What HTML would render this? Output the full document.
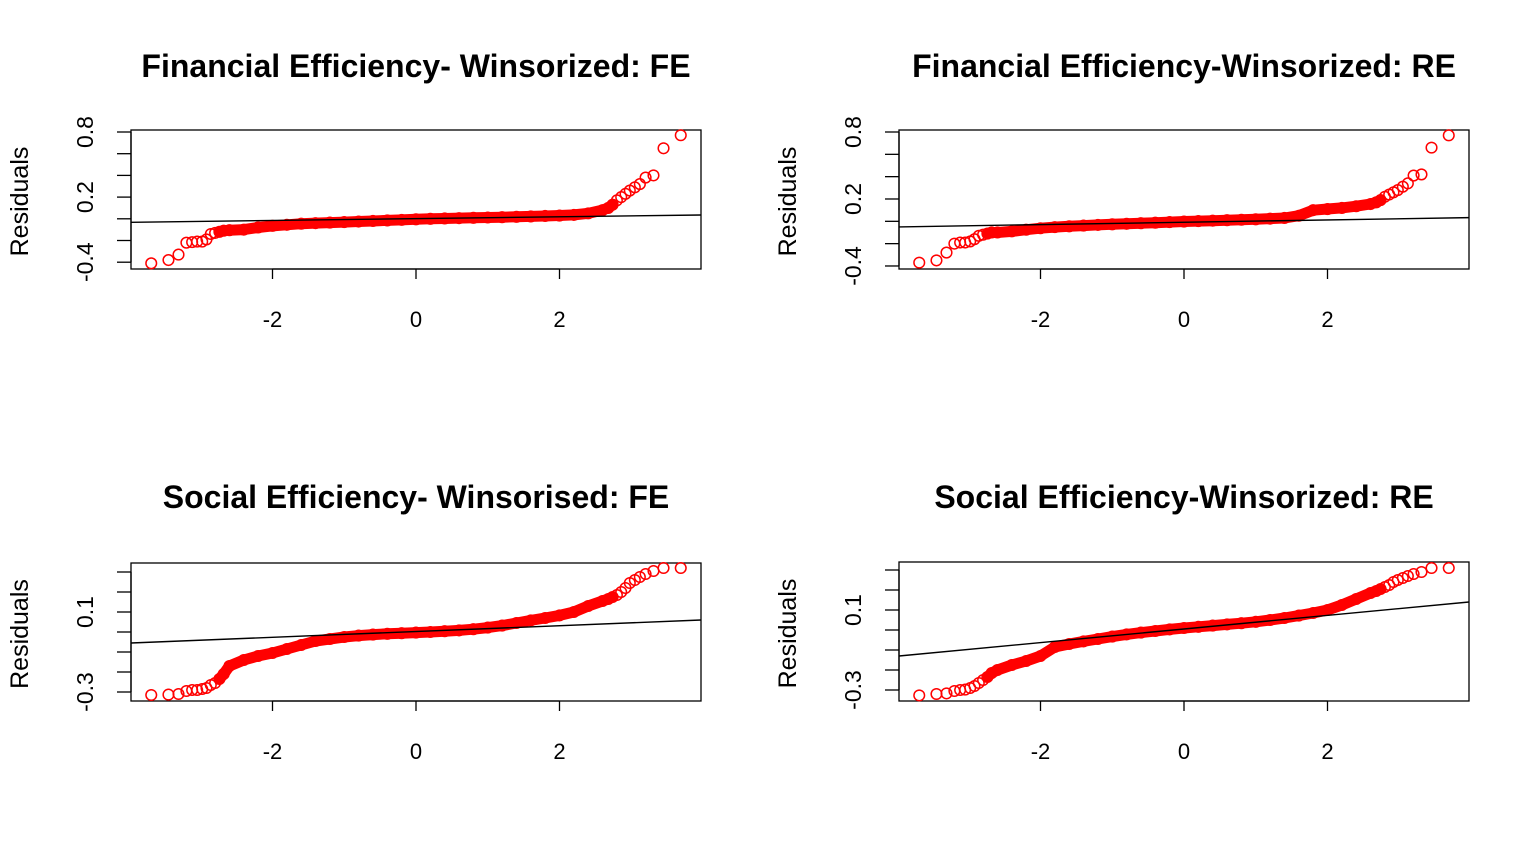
<!DOCTYPE html>
<html><head><meta charset="utf-8"><style>
html,body{margin:0;padding:0;background:#fff;}
svg{display:block;font-family:"Liberation Sans",Arial,sans-serif;}
</style></head><body>
<svg id="chart" width="1536" height="864" viewBox="0 0 1536 864" xmlns="http://www.w3.org/2000/svg"></svg>
<script>
// Shared theoretical quantiles
const theoQ = [-3.69,-3.45,-3.31,-3.2,-3.12,-3.05,-2.98,-2.92,-2.86,-2.8,-2.74,-2.68,
 -2.6,-2.4,-2.2,-2.0,-1.8,-1.6,-1.4,-1.2,-1.0,-0.8,-0.6,-0.4,-0.2,0,0.2,0.4,0.6,0.8,1.0,1.2,1.4,1.6,1.8,2.0,2.2,2.4,2.6,
 2.68,2.74,2.8,2.86,2.92,2.98,3.05,3.12,3.2,3.31,3.45,3.69];
const resFinFE = [-0.41,-0.38,-0.33,-0.22,-0.215,-0.21,-0.21,-0.19,-0.14,-0.13,-0.12,-0.11,
 -0.105,-0.1,-0.08,-0.065,-0.055,-0.045,-0.04,-0.035,-0.03,-0.025,-0.02,-0.015,-0.01,-0.005,0,0.003,0.006,0.009,0.012,0.015,0.018,0.022,0.026,0.03,0.036,0.05,0.08,
 0.1,0.13,0.17,0.2,0.23,0.26,0.29,0.32,0.38,0.40,0.65,0.77];
const resFinRE = [-0.37,-0.35,-0.28,-0.2,-0.19,-0.19,-0.18,-0.16,-0.13,-0.12,-0.11,-0.10,
 -0.1,-0.09,-0.075,-0.062,-0.052,-0.045,-0.038,-0.032,-0.027,-0.022,-0.017,-0.012,-0.007,-0.002,0.002,0.006,0.01,0.014,0.018,0.024,0.03,0.05,0.1,0.11,0.12,0.135,0.155,
 0.17,0.19,0.22,0.24,0.26,0.28,0.31,0.34,0.41,0.42,0.66,0.77];
const resSocFE = [-0.315,-0.313,-0.31,-0.295,-0.29,-0.29,-0.285,-0.28,-0.265,-0.255,-0.235,-0.21,
 -0.17,-0.14,-0.12,-0.105,-0.085,-0.065,-0.045,-0.035,-0.025,-0.018,-0.013,-0.009,-0.006,-0.003,0.0,0.004,0.008,0.014,0.022,0.032,0.045,0.058,0.07,0.083,0.1,0.13,0.155,
 0.165,0.175,0.185,0.2,0.22,0.245,0.26,0.275,0.29,0.305,0.32,0.32];
const resSocRE = [-0.327,-0.32,-0.317,-0.305,-0.3,-0.298,-0.29,-0.28,-0.265,-0.25,-0.235,-0.215,
 -0.2,-0.175,-0.155,-0.13,-0.085,-0.07,-0.057,-0.045,-0.033,-0.022,-0.013,-0.005,0.003,0.01,0.016,0.022,0.028,0.034,0.041,0.05,0.06,0.072,0.085,0.1,0.125,0.155,0.185,
 0.195,0.205,0.215,0.225,0.24,0.25,0.26,0.27,0.28,0.29,0.31,0.31];
// qq reference line values at left and right box edges
const lineFinFE = [-0.032, 0.035];
const lineFinRE = [-0.05, 0.033];
const lineSocFE = [-0.055, 0.06];
const lineSocRE = [-0.13, 0.14];
const xTicks = [-2, 0, 2];
const yTicksFin = [0.8,0.6,0.4,0.2,0,-0.2,-0.4];
const yLabelsFin = ["0.8","","","0.2","","","-0.4"];
const yTicksSoc = [0.3,0.2,0.1,0,-0.1,-0.2,-0.3];
const yLabelsSoc = ["","","0.1","","","","-0.3"];

const svg = document.getElementById('chart');
const NS = 'http://www.w3.org/2000/svg';
function mk(tag, attrs, parent){const e=document.createElementNS(NS,tag);for(const k in attrs)e.setAttribute(k,attrs[k]);(parent||svg).appendChild(e);return e;}

const panels = [
 {id:'fin-fe', title:'Financial Efficiency- Winsorized: FE', res:resFinFE, line:lineFinFE, yt:yTicksFin, yl:yLabelsFin,
  bx0:131,bx1:701,by0:130,by1:269, xz:416, xu:71.75, yTop:132, yStepPx:21.7, yStep:0.2, titleY:67, xlabY:327},
 {id:'fin-re', title:'Financial Efficiency-Winsorized: RE', res:resFinRE, line:lineFinRE, yt:yTicksFin, yl:yLabelsFin,
  bx0:899,bx1:1469,by0:130,by1:269, xz:1184, xu:71.75, yTop:132, yStepPx:22.33, yStep:0.2, titleY:67, xlabY:327},
 {id:'soc-fe', title:'Social Efficiency- Winsorised: FE', res:resSocFE, line:lineSocFE, yt:yTicksSoc, yl:yLabelsSoc,
  bx0:131,bx1:701,by0:563,by1:701, xz:416, xu:71.75, yTop:572, yStepPx:20, yStep:0.1, titleY:498, xlabY:759},
 {id:'soc-re', title:'Social Efficiency-Winsorized: RE', res:resSocRE, line:lineSocRE, yt:yTicksSoc, yl:yLabelsSoc,
  bx0:899,bx1:1469,by0:562,by1:701, xz:1184, xu:71.75, yTop:570, yStepPx:20, yStep:0.1, titleY:498, xlabY:759}
];

panels.forEach(p=>{
  const g = mk('g',{});
  
  
  const X = v => p.xz + v*p.xu;
  const y0 = p.yt[0];
  const Y = v => p.yTop + (y0 - v)/p.yStep*p.yStepPx;
  const t = mk('text',{x:(p.bx0+p.bx1)/2, y:p.titleY+10, 'text-anchor':'middle', 'font-size':'32', 'font-weight':'bold', fill:'#000'}, g);
  t.textContent = p.title;
  
  
  const box = mk('rect',{x:p.bx0,y:p.by0,width:p.bx1-p.bx0,height:p.by1-p.by0,fill:'none',stroke:'#000','stroke-width':1.3}, g);
  
  
  const xa = mk('g',{}, g);
  
  
  mk('line',{x1:X(xTicks[0]),x2:X(xTicks[xTicks.length-1]),y1:p.by1,y2:p.by1,stroke:'#000','stroke-width':1.3},xa);
  xTicks.forEach(v=>{
    mk('line',{x1:X(v),x2:X(v),y1:p.by1,y2:p.by1+10,stroke:'#000','stroke-width':1.3},xa);
    const tl = mk('text',{x:X(v),y:p.xlabY,'text-anchor':'middle','font-size':'22',fill:'#000'},xa);
    tl.textContent = String(v);
    
    
  });
  const ya = mk('g',{}, g);
  
  
  mk('line',{x1:p.bx0,x2:p.bx0,y1:Y(p.yt[0]),y2:Y(p.yt[p.yt.length-1]),stroke:'#000','stroke-width':1.3},ya);
  p.yt.forEach((v,i)=>{
    const yy = Y(v);
    mk('line',{x1:p.bx0-14,x2:p.bx0,y1:yy,y2:yy,stroke:'#000','stroke-width':1.3},ya);
    if(p.yl[i]){
      const lx = p.bx0-46;
      const tl = mk('text',{x:lx,y:yy,'text-anchor':'middle','font-size':'23',fill:'#000',transform:`rotate(-90 ${lx} ${yy})`,dy:'8'},ya);
      tl.textContent = p.yl[i];
      
      
    }
  });
  const yc = (p.by0+p.by1)/2+2, yx = p.bx0-111;
  const yt = mk('text',{x:yx,y:yc,'text-anchor':'middle','font-size':'25',fill:'#000',transform:`rotate(-90 ${yx} ${yc})`,dy:'8'},g);
  yt.textContent = 'Residuals';
  
  
  const pts = [];
  for(let i=10;i<theoQ.length-10;i++) pts.push(X(theoQ[i]).toFixed(1)+','+Y(p.res[i]).toFixed(1));
  const band = mk('polyline',{points:pts.join(' '),fill:'none',stroke:'#ff0000','stroke-width':11,'stroke-linejoin':'round','stroke-linecap':'round'},g);
  
  
  theoQ.forEach((q,i)=>{
    const c = mk('circle',{cx:X(q),cy:Y(p.res[i]),r:5.3,fill:'none',stroke:'#ff0000','stroke-width':1.5},g);
    
    
  });
  const ln = mk('line',{x1:p.bx0,y1:Y(p.line[0]),x2:p.bx1,y2:Y(p.line[1]),stroke:'#000','stroke-width':1.4},g);
  
  
});
</script>
</body></html>
